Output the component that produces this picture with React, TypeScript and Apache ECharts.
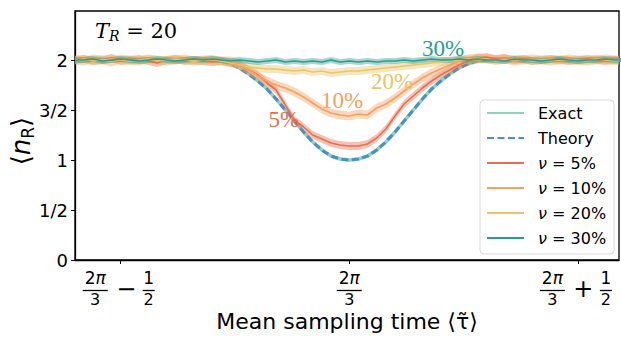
import React, { useEffect, useRef } from 'react';
import * as echarts from 'echarts';

// offset of the mean sampling time from 2π/3
const tauOffset = [-0.60,-0.58,-0.56,-0.54,-0.52,-0.50,-0.48,-0.46,-0.44,-0.42,-0.40,-0.38,-0.36,-0.34,-0.32,-0.30,-0.28,-0.26,-0.24,-0.22,-0.20,-0.18,-0.16,-0.14,-0.12,-0.10,-0.08,-0.06,-0.04,-0.02,0,0.02,0.04,0.06,0.08,0.10,0.12,0.14,0.16,0.18,0.20,0.22,0.24,0.26,0.28,0.30,0.32,0.34,0.36,0.38,0.40,0.42,0.44,0.46,0.48,0.50,0.52,0.54,0.56,0.58,0.60];

const exact = [2.00,2.00,2.00,2.00,2.00,2.00,2.00,2.00,2.00,2.00,2.00,2.00,2.00,2.00,2.00,2.00,1.99,1.96,1.92,1.86,1.79,1.71,1.61,1.50,1.39,1.28,1.18,1.10,1.04,1.01,1.00,1.01,1.04,1.10,1.18,1.28,1.39,1.50,1.61,1.71,1.79,1.86,1.92,1.96,1.99,2.00,2.00,2.00,2.00,2.00,2.00,2.00,2.00,2.00,2.00,2.00,2.00,2.00,2.00,2.00,2.00];
const theory = [2.00,2.00,2.00,2.00,2.00,2.00,2.00,2.00,2.00,2.00,2.00,2.00,2.00,2.00,2.00,2.00,1.99,1.96,1.92,1.86,1.79,1.71,1.61,1.50,1.39,1.28,1.18,1.10,1.04,1.01,1.00,1.01,1.04,1.10,1.18,1.28,1.39,1.50,1.61,1.71,1.79,1.86,1.92,1.96,1.99,2.00,2.00,2.00,2.00,2.00,2.00,2.00,2.00,2.00,2.00,2.00,2.00,2.00,2.00,2.00,2.00];
const nu5 = [2.00,2.01,1.99,2.00,2.02,1.99,2.00,2.01,1.99,1.97,2.00,2.01,1.99,2.00,1.99,1.98,1.99,1.97,1.95,1.90,1.85,1.77,1.70,1.55,1.40,1.33,1.25,1.21,1.17,1.15,1.14,1.14,1.16,1.22,1.31,1.44,1.56,1.64,1.72,1.79,1.85,1.90,1.95,1.99,2.02,2.03,2.01,2.02,2.00,2.01,1.99,2.00,2.01,2.00,1.99,2.00,2.01,2.00,1.99,2.00,2.00];
const nu10 = [2.00,1.99,2.01,2.00,1.98,2.01,2.00,1.99,2.01,2.00,1.99,2.00,2.01,1.99,2.00,2.00,1.99,1.99,1.96,1.90,1.84,1.79,1.75,1.72,1.68,1.63,1.57,1.51,1.47,1.45,1.44,1.46,1.45,1.52,1.56,1.62,1.69,1.76,1.82,1.87,1.91,1.95,1.99,2.01,2.02,2.01,2.00,2.01,1.99,2.00,2.01,2.00,1.99,2.00,2.01,2.00,1.99,2.00,2.01,2.00,2.00];
const nu20 = [2.00,2.01,1.99,2.00,2.01,2.00,1.99,2.00,2.01,1.99,2.00,2.01,2.00,1.99,2.00,2.01,1.99,1.97,1.95,1.93,1.92,1.91,1.91,1.90,1.89,1.90,1.88,1.89,1.87,1.88,1.89,1.89,1.90,1.91,1.92,1.93,1.94,1.95,1.96,1.97,1.98,1.99,2.00,2.01,2.00,2.01,1.99,2.00,2.01,2.00,1.99,2.00,2.01,2.00,2.00,1.99,2.00,2.01,2.00,1.99,2.00];
const nu30 = [2.00,2.00,2.01,1.99,2.00,2.01,2.00,1.99,2.00,2.01,2.00,1.99,2.00,2.01,2.00,2.01,2.00,1.99,2.00,1.99,1.98,1.99,2.00,1.98,1.99,1.98,1.99,1.98,2.00,1.98,1.99,1.98,1.99,1.98,1.99,1.99,2.00,1.99,2.00,2.01,2.00,2.00,2.01,2.00,2.01,2.00,2.00,1.99,2.01,2.00,2.00,1.99,2.00,2.01,2.00,1.99,2.00,2.00,2.01,2.00,2.00];

// error-band half widths for 5%, 10%, 20%, 30%
const bandHalf = [0.04, 0.045, 0.04, 0.03];
const nuNames = ['ν = 5%', 'ν = 10%', 'ν = 20%', 'ν = 30%'];
const nuTags = ['5%', '10%', '20%', '30%'];
const nuColors = ['#e76f51', '#f4a261', '#e9c46a', '#2a9d8f'];
// in-plot label anchors [offset, value]
const tagX = [-0.143, -0.016, 0.0935, 0.205];
const tagY = [1.404, 1.596, 1.783, 2.118];

const yTicks = [0, 0.5, 1, 1.5, 2];
const yTickLabels = ['0', '1/2', '1', '3/2', '2'];
const xTicks = [-0.5, 0, 0.5];
const xTickOps = ['−', '', '+'];

const SANS = 'DejaVu Sans';

function hexA(hex: string, a: number) {
  const r = parseInt(hex.slice(1, 3), 16), g = parseInt(hex.slice(3, 5), 16), b = parseInt(hex.slice(5, 7), 16);
  return `rgba(${r},${g},${b},${a})`;
}

export default function App() {
  const ref = useRef<HTMLDivElement>(null);
  useEffect(() => {
    const chart = echarts.init(ref.current!, null, { renderer: 'svg' });
    const pair = (ys: number[]) => ys.map((y, i) => [tauOffset[i], y]);
    const nuData = [nu5, nu10, nu20, nu30];

    const series: any[] = [
      { name: 'Exact', type: 'line', data: pair(exact), symbol: 'none', lineStyle: { color: '#8fd3bd', width: 3.5 }, itemStyle: { color: '#8fd3bd' }, z: 2 },
      { name: 'Theory', type: 'line', data: pair(theory), symbol: 'none', lineStyle: { color: '#4a8fc6', width: 3, type: [7, 3.5] }, itemStyle: { color: '#4a8fc6' }, z: 3 },
    ];
    nuData.forEach((vals, k) => {
      const w = bandHalf[k];
      const c = nuColors[k];
      series.push({
        name: 'band' + k, type: 'custom', silent: true, clip: true, z: 4 + k,
        data: [[tauOffset[0], vals[0]]],
        renderItem: (_p: any, api: any) => {
          const up = vals.map((v, i) => api.coord([tauOffset[i], v + w]));
          const lo = vals.map((v, i) => api.coord([tauOffset[i], v - w])).reverse();
          return { type: 'polygon', shape: { points: up.concat(lo) }, style: { fill: hexA(c, 0.42) } };
        },
      });
      series.push({
        name: nuNames[k], type: 'line', symbol: 'none', data: pair(vals),
        lineStyle: { color: c, width: 1.6 }, itemStyle: { color: c }, z: 10 + k,
      });
    });

    chart.setOption({
      animation: false,
      grid: { left: 75, right: 2, top: 11, bottom: 73, show: true, borderColor: '#000', borderWidth: 1.3, backgroundColor: 'transparent' },
      xAxis: {
        type: 'value', min: -0.6, max: 0.59,
        axisLine: { show: true, onZero: false, lineStyle: { color: '#000', width: 1.3 } },
        axisTick: { show: true, length: 4, customValues: xTicks, lineStyle: { color: '#000' } },
        axisLabel: { show: false },
        splitLine: { show: false },
        name: 'Mean sampling time ⟨τ̃⟩', nameLocation: 'middle', nameGap: 50,
        nameTextStyle: { fontFamily: SANS, fontSize: 22, color: '#000', lineHeight: 22 },
      },
      yAxis: {
        type: 'value', min: 0, max: 2.49, interval: 0.5,
        axisLine: { show: true, onZero: false, lineStyle: { color: '#000', width: 1.3 } },
        axisTick: { show: true, length: 4, customValues: yTicks, lineStyle: { color: '#000' } },
        axisLabel: {
          customValues: yTicks, margin: 7, fontFamily: SANS, fontSize: 18, color: '#000',
          formatter: (v: number) => { const i = yTicks.indexOf(v); return i >= 0 ? yTickLabels[i] : ''; },
        },
        splitLine: { show: false },
      },
      legend: {
        orient: 'vertical', left: 480, top: 100,
        data: ['Exact', 'Theory', ...nuNames],
        itemWidth: 37, itemHeight: 14, itemGap: 9,
        padding: [5, 8, 8, 6],
        itemStyle: { opacity: 0 },
        backgroundColor: 'rgba(255,255,255,0.85)', borderColor: '#d9d9d9', borderWidth: 1, borderRadius: 4,
        formatter: (n: string) => n.replace('ν', '{i|ν}'),
        textStyle: {
          fontFamily: SANS, fontSize: 16, color: '#000', padding: [0, 0, 0, 9],
          rich: { i: { fontFamily: SANS, fontStyle: 'italic', fontSize: 16, color: '#000' } },
        },
      },
      series,
    });

    const gx = (u: number) => chart.convertToPixel({ xAxisIndex: 0 }, u) as number;
    const graphics: any[] = [];
    const frac = (cx: number, num: string, den: string, w: number) => {
      graphics.push({ type: 'text', x: cx, y: 277.5, style: { text: num, fontFamily: SANS, fontSize: 17, lineHeight: 13, fill: '#000', align: 'center', verticalAlign: 'middle', rich: { p: { fontFamily: SANS, fontStyle: 'italic', fontSize: 17, lineHeight: 13 }, n: { fontFamily: SANS, fontSize: 17, lineHeight: 13 } } } });
      graphics.push({ type: 'line', shape: { x1: cx - w / 2, y1: 290.5, x2: cx + w / 2, y2: 290.5 }, style: { stroke: '#000', lineWidth: 1.3 } });
      graphics.push({ type: 'text', x: cx, y: 299.5, style: { text: den, fontFamily: SANS, fontSize: 16, lineHeight: 12, fill: '#000', align: 'center', verticalAlign: 'middle' } });
    };
    xTicks.forEach((t, k) => {
      const px = gx(t);
      if (xTickOps[k] === '') {
        frac(px, '{n|2}{p|π}', '3', 25);
      } else {
        frac(px - 25.5, '{n|2}{p|π}', '3', 25);
        graphics.push({ type: 'text', x: px + 5.5, y: 288.5, style: { text: xTickOps[k], fontFamily: SANS, fontSize: 24, lineHeight: 14, fill: '#000', align: 'center', verticalAlign: 'middle' } });
        frac(px + 28, '1', '2', 12);
      }
    });
    nuTags.forEach((tag, k) => {
      const p = chart.convertToPixel({ gridIndex: 0 }, [tagX[k], tagY[k]]) as number[];
      graphics.push({ type: 'text', x: p[0], y: p[1], z: 100, style: { text: tag, fontFamily: 'Liberation Serif', fontSize: 23, fill: nuColors[k], align: 'center', verticalAlign: 'middle' } });
    });
    graphics.push({
      type: 'text', x: 95, y: 31, style: {
        text: '{t|T}{r|R}{e| = 20}', align: 'left', verticalAlign: 'middle',
        rich: {
          t: { fontFamily: 'DejaVu Serif', fontStyle: 'italic', fontSize: 21, fill: '#000', lineHeight: 24 },
          r: { fontFamily: 'DejaVu Serif', fontStyle: 'italic', fontSize: 14, fill: '#000', lineHeight: 12, verticalAlign: 'bottom', padding: [6, 0, 0, 0] },
          e: { fontFamily: 'DejaVu Serif', fontSize: 21, fill: '#000', lineHeight: 24 },
        },
      },
    });
    graphics.push({
      type: 'text', x: 21, y: 141, rotation: Math.PI / 2, style: {
        text: '{b|⟨}{n|n}{r|R}{b|⟩}', align: 'center', verticalAlign: 'middle',
        rich: {
          b: { fontFamily: SANS, fontSize: 26, fill: '#000', lineHeight: 30 },
          n: { fontFamily: SANS, fontStyle: 'italic', fontSize: 26, fill: '#000', lineHeight: 30 },
          r: { fontFamily: SANS, fontSize: 17, fill: '#000', lineHeight: 14, verticalAlign: 'bottom' },
        },
      },
    });
    chart.setOption({ graphic: graphics });
    return () => chart.dispose();
  }, []);
  return <div ref={ref} style={{ position: 'absolute', left: 0, top: 0, width: 621, height: 337 }} />;
}
